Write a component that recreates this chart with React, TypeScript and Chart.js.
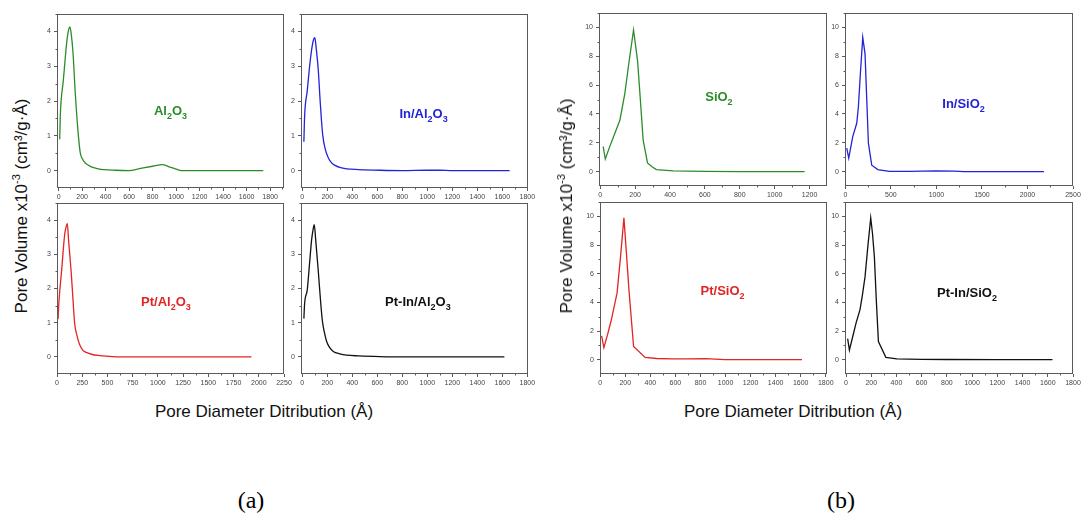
import React, { useEffect, useRef } from "react";
import { Chart, registerables } from "chart.js";

Chart.register(...registerables);

// ---------- data ----------
const al2o3X = [9, 14, 40, 71, 85, 96, 108, 122, 142, 163, 184, 205, 227, 255, 283, 330, 382, 480, 595, 700, 800, 884, 940, 1000, 1042, 1742];
const al2o3Y = [0.9, 1.57, 2.6, 3.75, 4.05, 4.13, 3.9, 3.4, 2.2, 1.2, 0.51, 0.32, 0.22, 0.15, 0.1, 0.06, 0.03, 0.01, 0.0, 0.065, 0.125, 0.17, 0.11, 0.045, 0.0, 0.0];

const inAl2o3X = [13, 19, 40, 62, 78, 92, 101, 112, 128, 145, 163, 185, 208, 235, 262, 300, 355, 450, 622, 800, 1000, 1100, 1200, 1658];
const inAl2o3Y = [0.83, 1.57, 2.3, 3.1, 3.55, 3.78, 3.82, 3.5, 2.9, 1.9, 1.04, 0.6, 0.37, 0.22, 0.15, 0.09, 0.05, 0.03, 0.01, 0.0, 0.01, 0.01, 0.0, 0.0];

const ptAl2o3X = [10, 20, 45, 76, 90, 102, 115, 142, 158, 175, 200, 224, 255, 290, 350, 422, 550, 750, 1927];
const ptAl2o3Y = [1.1, 1.65, 2.5, 3.58, 3.8, 3.9, 3.4, 2.42, 1.7, 0.98, 0.6, 0.36, 0.2, 0.13, 0.07, 0.04, 0.01, 0.0, 0.0];

const ptInAl2o3X = [13, 19, 40, 60, 75, 88, 96, 108, 128, 145, 160, 178, 195, 220, 248, 300, 355, 450, 621, 800, 1616];
const ptInAl2o3Y = [1.12, 1.56, 1.96, 2.8, 3.43, 3.75, 3.87, 3.4, 2.52, 1.7, 1.08, 0.7, 0.45, 0.27, 0.16, 0.09, 0.05, 0.03, 0.01, 0.0, 0.0];

const sio2X = [17, 29, 55, 84, 113, 141, 165, 191, 214, 230, 246, 271, 295, 322, 418, 600, 800, 1172];
const sio2Y = [1.74, 0.87, 1.75, 2.66, 3.58, 5.41, 7.6, 9.82, 7.7, 5.0, 2.2, 0.6, 0.35, 0.14, 0.05, 0.02, 0.0, 0.0];

const inSio2X = [15, 37, 81, 125, 143, 165, 191, 216, 235, 253, 290, 356, 484, 700, 1000, 1200, 1300, 2181];
const inSio2Y = [1.63, 0.94, 2.43, 3.35, 4.5, 6.8, 9.31, 8.17, 5.0, 1.97, 0.44, 0.14, 0.02, 0.01, 0.05, 0.03, 0.0, 0.0];

const ptSio2X = [11, 29, 60, 89, 134, 160, 189, 210, 229, 266, 358, 450, 576, 700, 839, 997, 1610];
const ptSio2Y = [1.66, 0.83, 1.8, 2.8, 4.64, 7.0, 9.89, 7.3, 4.87, 0.92, 0.16, 0.08, 0.05, 0.05, 0.07, 0.0, 0.0];

const ptInSio2X = [13, 27, 53, 80, 111, 130, 151, 172, 196, 210, 225, 240, 257, 316, 403, 600, 800, 1200, 1637];
const ptInSio2Y = [1.47, 0.67, 1.6, 2.57, 3.49, 4.5, 5.79, 7.8, 9.89, 8.8, 7.17, 4.2, 1.26, 0.16, 0.05, 0.02, 0.01, 0.0, 0.0];

// tick labels
const ticks1800 = [0, 200, 400, 600, 800, 1000, 1200, 1400, 1600, 1800];
const ticks2250 = [0, 250, 500, 750, 1000, 1250, 1500, 1750, 2000, 2250];
const ticks1200 = [0, 200, 400, 600, 800, 1000, 1200];
const ticks2500 = [0, 500, 1000, 1500, 2000, 2500];
const yTicksAl = [0, 1, 2, 3, 4];
const yTicksSi = [0, 2, 4, 6, 8, 10];

// ---------- styling / layout ----------
const GREEN = "#2c8c2c";
const BLUE = "#2323d8";
const RED = "#e22424";
const BLACK = "#111111";
const FRAME = "#5a5a5a";
const SANS = "'Liberation Sans', Arial, sans-serif";

const YW = 24; // y axis box width
const XH = 18; // x axis box height
const PT = 8; // top padding
const PR = 16; // right padding

type Panel = {
  frame: [number, number, number, number];
  xMin: number; xMax: number; xTicks: number[];
  yMin: number; yMax: number; yTicks: number[];
  xs: number[]; ys: number[]; smooth: boolean;
  color: string; label: string; lx: number; ly: number;
};

const panels: Panel[] = [
  { frame: [57, 14, 284, 188], xMin: -14, xMax: 1918, xTicks: ticks1800, yMin: -0.5, yMax: 4.5, yTicks: yTicksAl,
    xs: al2o3X, ys: al2o3Y, smooth: true, color: GREEN, label: "Al2O3", lx: 0.5, ly: 0.56 },
  { frame: [301, 14, 528, 188], xMin: -10, xMax: 1805, xTicks: ticks1800, yMin: -0.5, yMax: 4.5, yTicks: yTicksAl,
    xs: inAl2o3X, ys: inAl2o3Y, smooth: true, color: BLUE, label: "In/Al2O3", lx: 0.54, ly: 0.575 },
  { frame: [57, 203, 284, 374], xMin: 0, xMax: 2250, xTicks: ticks2250, yMin: -0.5, yMax: 4.5, yTicks: yTicksAl,
    xs: ptAl2o3X, ys: ptAl2o3Y, smooth: true, color: RED, label: "Pt/Al2O3", lx: 0.48, ly: 0.58 },
  { frame: [301, 203, 528, 374], xMin: -10, xMax: 1805, xTicks: ticks1800, yMin: -0.5, yMax: 4.5, yTicks: yTicksAl,
    xs: ptInAl2o3X, ys: ptInAl2o3Y, smooth: true, color: BLACK, label: "Pt-In/Al2O3", lx: 0.515, ly: 0.58 },
  { frame: [599, 13, 827, 186], xMin: -7, xMax: 1300, xTicks: ticks1200, yMin: -1, yMax: 11, yTicks: yTicksSi,
    xs: sio2X, ys: sio2Y, smooth: false, color: GREEN, label: "SiO2", lx: 0.526, ly: 0.487 },
  { frame: [845, 13, 1073, 186], xMin: -4, xMax: 2500, xTicks: ticks2500, yMin: -1, yMax: 11, yTicks: yTicksSi,
    xs: inSio2X, ys: inSio2Y, smooth: false, color: BLUE, label: "In/SiO2", lx: 0.52, ly: 0.527 },
  { frame: [600, 202, 827, 374], xMin: -2, xMax: 1810, xTicks: ticks1800, yMin: -1, yMax: 11, yTicks: yTicksSi,
    xs: ptSio2X, ys: ptSio2Y, smooth: false, color: RED, label: "Pt/SiO2", lx: 0.54, ly: 0.52 },
  { frame: [845, 202, 1073, 374], xMin: -8, xMax: 1800, xTicks: ticks1800, yMin: -1, yMax: 11, yTicks: yTicksSi,
    xs: ptInSio2X, ys: ptInSio2Y, smooth: false, color: BLACK, label: "Pt-In/SiO2", lx: 0.535, ly: 0.53 },
];

function midpoints(t: number[]): number[] {
  const out: number[] = [];
  for (let i = 0; i < t.length - 1; i++) out.push((t[i] + t[i + 1]) / 2);
  if (t.length > 1) {
    const step = t[1] - t[0];
    out.push(t[t.length - 1] + step / 2);
  }
  return out;
}

const decorPlugin = {
  id: "decor",
  afterDraw(chart: any, _args: any, opts: any) {
    const { ctx, chartArea: a, scales } = chart;
    ctx.save();
    // frame
    ctx.strokeStyle = FRAME;
    ctx.lineWidth = 1;
    const l = Math.round(a.left) + 0.5, t = Math.round(a.top) + 0.5;
    const r = Math.round(a.right) - 0.5, b = Math.round(a.bottom) - 0.5;
    ctx.strokeRect(l, t, r - l, b - t);
    // minor ticks
    ctx.beginPath();
    for (const v of opts.xMinor as number[]) {
      const px = Math.round(scales.x.getPixelForValue(v)) + 0.5;
      if (px < a.left || px > a.right) continue;
      ctx.moveTo(px, b);
      ctx.lineTo(px, b + 2);
    }
    for (const v of opts.yMinor as number[]) {
      const py = Math.round(scales.y.getPixelForValue(v)) + 0.5;
      if (py < a.top || py > a.bottom) continue;
      ctx.moveTo(l, py);
      ctx.lineTo(l - 2, py);
    }
    ctx.stroke();
    // label with subscripts
    const label: string = opts.label;
    const parts: { s: string; sub: boolean }[] = [];
    for (const ch of label) {
      const sub = /[0-9]/.test(ch);
      const last = parts[parts.length - 1];
      if (last && last.sub === sub) last.s += ch;
      else parts.push({ s: ch, sub });
    }
    const big = `bold 13px ${SANS}`;
    const small = `bold 9px ${SANS}`;
    let total = 0;
    for (const p of parts) {
      ctx.font = p.sub ? small : big;
      total += ctx.measureText(p.s).width;
    }
    let x = a.left + (a.right - a.left) * opts.lx - total / 2;
    const y = a.top + (a.bottom - a.top) * opts.ly;
    ctx.fillStyle = opts.color;
    ctx.textBaseline = "middle";
    ctx.textAlign = "left";
    for (const p of parts) {
      ctx.font = p.sub ? small : big;
      ctx.fillText(p.s, x, p.sub ? y + 5 : y);
      x += ctx.measureText(p.s).width;
    }
    ctx.restore();
  },
};

function PanelChart({ p }: { p: Panel }) {
  const ref = useRef<HTMLCanvasElement>(null);
  const [L, T, R, B] = p.frame;
  const w = R - L + YW + PR;
  const h = B - T + PT + XH;

  useEffect(() => {
    const data = p.xs.map((x, i) => ({ x, y: p.ys[i] }));
    const yStep = p.yTicks[1] - p.yTicks[0];
    const yMinor = [p.yTicks[0] - yStep / 2, ...midpoints(p.yTicks)];
    const chart = new Chart(ref.current!, {
      type: "line",
      data: {
        datasets: [
          {
            data,
            borderColor: p.color,
            borderWidth: 1.3,
            pointRadius: 0,
            tension: 0,
            cubicInterpolationMode: p.smooth ? "monotone" : "default",
            fill: false,
          },
        ],
      },
      options: {
        animation: false,
        responsive: false,
        devicePixelRatio: 1,
        layout: { padding: { top: PT, right: PR, left: 0, bottom: 0 } },
        plugins: {
          legend: { display: false },
          tooltip: { enabled: false },
          decor: { label: p.label, color: p.color, lx: p.lx, ly: p.ly, xMinor: midpoints(p.xTicks), yMinor },
        } as any,
        scales: {
          x: {
            type: "linear",
            min: p.xMin,
            max: p.xMax,
            afterBuildTicks: (s: any) => {
              s.ticks = p.xTicks.map((v) => ({ value: v }));
            },
            afterFit: (s: any) => {
              s.height = XH;
            },
            ticks: {
              font: { size: 7, family: SANS },
              color: "#444",
              maxRotation: 0,
              autoSkip: false,
              padding: 2,
              callback: (v: any) => String(v),
            },
            grid: { drawOnChartArea: false, tickLength: 3, color: FRAME, tickColor: FRAME },
            border: { display: false },
          },
          y: {
            type: "linear",
            min: p.yMin,
            max: p.yMax,
            afterBuildTicks: (s: any) => {
              s.ticks = p.yTicks.map((v) => ({ value: v }));
            },
            afterFit: (s: any) => {
              s.width = YW;
            },
            ticks: {
              font: { size: 7, family: SANS },
              color: "#444",
              autoSkip: false,
              padding: 3,
              callback: (v: any) => String(v),
            },
            grid: { drawOnChartArea: false, tickLength: 3, color: FRAME, tickColor: FRAME },
            border: { display: false },
          },
        },
      },
      plugins: [decorPlugin],
    } as any);
    return () => chart.destroy();
  }, []);

  return (
    <canvas
      ref={ref}
      width={w}
      height={h}
      style={{ position: "absolute", left: L - YW, top: T - PT, width: w, height: h, display: "block" }}
    />
  );
}

const yTitleStyle = (cx: number, cy: number): React.CSSProperties => ({
  position: "absolute",
  left: cx,
  top: cy,
  transform: "translate(-50%, -50%) rotate(-90deg)",
  whiteSpace: "nowrap",
  font: `17px ${SANS}`,
  color: "#111",
});

const xTitleStyle = (cx: number, cy: number): React.CSSProperties => ({
  position: "absolute",
  left: cx,
  top: cy,
  transform: "translate(-50%, -50%)",
  whiteSpace: "nowrap",
  font: `17px ${SANS}`,
  color: "#111",
});

const capStyle = (cx: number, cy: number): React.CSSProperties => ({
  position: "absolute",
  left: cx,
  top: cy,
  transform: "translate(-50%, -50%)",
  whiteSpace: "nowrap",
  font: `24px 'Liberation Serif', 'Times New Roman', serif`,
  color: "#000",
});

function YTitle() {
  return (
    <>
      Pore Volume x10<sup style={{ fontSize: "11px", verticalAlign: "7px", lineHeight: 0 }}>-3</sup> (cm³/g·Å)
    </>
  );
}

export default function App() {
  return (
    <div style={{ position: "absolute", left: 0, top: 0, width: 1083, height: 522, background: "#fff", overflow: "hidden" }}>
      {panels.map((p, i) => (
        <PanelChart key={i} p={p} />
      ))}
      <div style={yTitleStyle(22, 206)}><YTitle /></div>
      <div style={yTitleStyle(567, 206)}><YTitle /></div>
      <div style={xTitleStyle(264, 412)}>Pore Diameter Ditribution (Å)</div>
      <div style={xTitleStyle(793, 412)}>Pore Diameter Ditribution (Å)</div>
      <div style={capStyle(251, 500)}>(a)</div>
      <div style={capStyle(841, 500)}>(b)</div>
    </div>
  );
}
